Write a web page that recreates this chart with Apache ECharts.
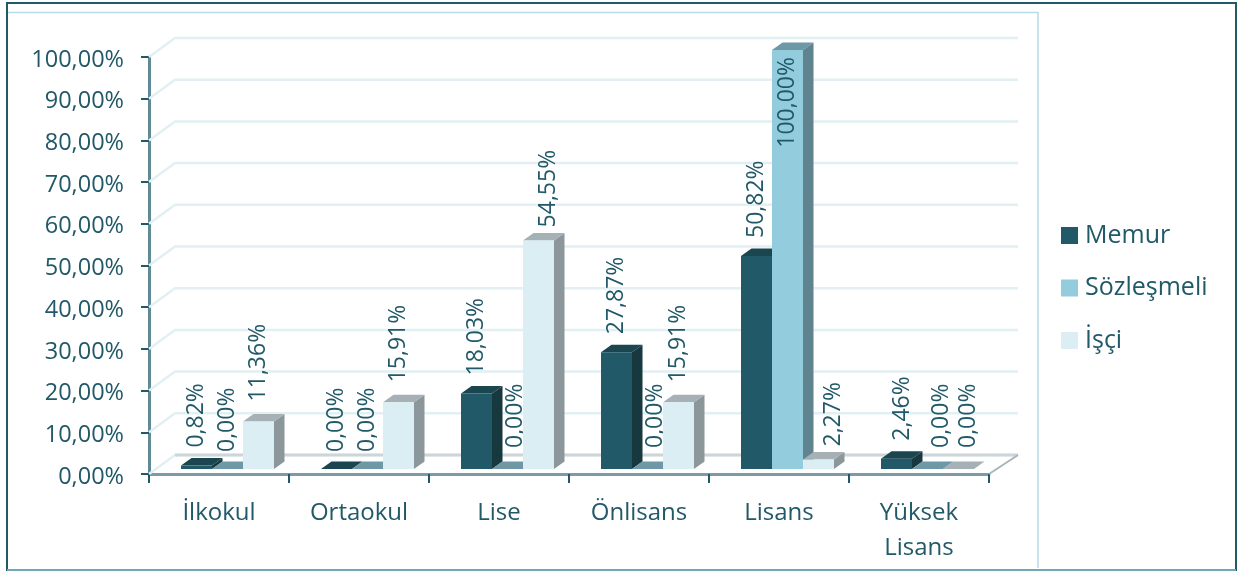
<!DOCTYPE html>
<html><head><meta charset="utf-8">
<style>html,body{margin:0;padding:0;background:#fff}#c{width:1237px;height:571px}</style>
<script src="https://cdn.jsdelivr.net/npm/echarts@6/dist/echarts.min.js"></script>
</head><body><div id="c"></div>
<script>
const categories = ['İlkokul','Ortaokul','Lise','Önlisans','Lisans','Yüksek\nLisans'];
const memur = [0.82,0,18.03,27.87,50.82,2.46];
const sozlesmeli = [0,0,0,0,100,0];
const isci = [11.36,15.91,54.55,15.91,2.27,0];
const yTicks = [0,10,20,30,40,50,60,70,80,90,100];

const TEXT='#215968', FONT='"Open Sans", sans-serif', FS_LABEL=23, FS_Y=23.5, FS_X=24, FS_LEG=25;
const WALL={dx:26,dy:19}, BAR={w:31,dx:10.5,dy:7.5,baseDx:32,baseDy:5};
// hand-placed data-label nudges of the original: [series][category] -> [dx, gap above bar]
const LABEL_PLACE=[
  [[0,18],[0,17],[0,18],[0,18],[0,18],[6,18]],
  [[0,17],[0,17],[8,21],[8,21],[0,0],[14,21]],
  [[0,20],[0,20],[10,13],[0,20],[15,13],[10,21]]
];
const chart=echarts.init(document.getElementById('c'),null,{renderer:'canvas'});
const fmt=v=>v.toFixed(2).replace('.',',')+'%';

function barSeries(name,values,idx,front,side,top){
  return {
    name,type:'custom',coordinateSystem:'cartesian2d',z:3+idx,silent:true,
    itemStyle:{color:front},
    data:values.map((v,i)=>[i,v]),
    encode:{x:0,y:1},
    renderItem(params,api){
      const c=api.value(0),v=api.value(1),cs=params.coordSys;
      const band=api.size([1,0])[0];
      const start=cs.x+band*c;
      const zeroY=api.coord([c,0])[1];
      const base=zeroY-BAR.baseDy;
      const ty=base+(api.coord([c,v])[1]-zeroY)*1.005;
      const x0=start+BAR.baseDx+BAR.w*idx,x1=x0+BAR.w;
      const d=BAR.dx,e=BAR.dy;
      const poly=(pts,fill)=>({type:'polygon',shape:{points:pts},style:{fill}});
      const kids=[
        poly([[x1,base],[x1+d,base-e],[x1+d,ty-e],[x1,ty]],side),
        poly([[x0,ty],[x0+d,ty-e],[x1+d,ty-e],[x1,ty]],top),
        {type:'rect',shape:{x:x0,y:ty,width:BAR.w,height:Math.max(base-ty,0)},style:{fill:front}}
      ];
      const place=LABEL_PLACE[idx][c], lx=(x0+x1)/2+place[0], over=v>=100;
      kids.push({type:'text',x:lx,y:over?cs.y:ty-place[1],rotation:Math.PI/2,z2:50,
        style:{text:fmt(v),fill:TEXT,font:FS_LABEL+'px '+FONT,align:over?'right':'left',verticalAlign:'middle'}});
      return {type:'group',children:kids};
    }
  };
}

const wallSeries={
  name:'wall',type:'custom',coordinateSystem:'cartesian2d',z:1,silent:true,clip:false,
  data:yTicks.map(v=>[0,v]),encode:{x:0,y:1},
  renderItem(params,api){
    const cs=params.coordSys,val=api.value(1),y=api.coord([0,val])[1];
    const x=cs.x,x2=cs.x+cs.width,isFloor=val===0;
    const kids=[{type:'polyline',shape:{points:[[x,y],[x+WALL.dx,y-WALL.dy],[x2+WALL.dx+3,y-WALL.dy]]},
      style:{stroke:'#e2f0f4',lineWidth:2.5,fill:null}},
      {type:'text',x:x-25,y:y+3,style:{text:fmt(val),fill:TEXT,font:FS_Y+'px '+FONT,align:'right',verticalAlign:'middle'}}];
    if(isFloor){
      kids.push({type:'line',shape:{x1:x+WALL.dx,y1:y-WALL.dy,x2:x2+WALL.dx+3,y2:y-WALL.dy},style:{stroke:'#ccd6d8',lineWidth:3}});
      kids.push({type:'line',shape:{x1:x2,y1:y,x2:x2+WALL.dx+3,y2:y-WALL.dy},style:{stroke:'#a9b5b8',lineWidth:2}});
    }
    return {type:'group',children:kids};
  }
};

chart.setOption({
  animation:false,
  backgroundColor:'#fff',
  grid:{left:149,right:248,top:57,bottom:97,containLabel:false},
  legend:{data:['Memur','Sözleşmeli','İşçi'],orient:'vertical',left:1056,top:218,icon:'rect',
    itemWidth:17,itemHeight:17,itemGap:27.5,selectedMode:false,
    textStyle:{color:TEXT,fontFamily:FONT,fontSize:FS_LEG,padding:[0,0,0,2]}},
  xAxis:{type:'category',data:categories,
    axisLine:{lineStyle:{color:'#7c9ba4',width:3}},
    axisTick:{show:true,alignWithLabel:false,length:9,lineStyle:{color:TEXT,width:2}},
    axisLabel:{color:TEXT,fontFamily:FONT,fontSize:FS_X,margin:22,lineHeight:35,interval:0}},
  yAxis:{type:'value',min:0,max:100,interval:10,
    axisLine:{show:true,lineStyle:{color:'#5f8a96',width:3}},
    axisTick:{show:true,length:8,lineStyle:{color:TEXT,width:2}},
    splitLine:{show:false},
    axisLabel:{show:false}},
  series:[wallSeries,
    barSeries('Memur',memur,0,'#215968','#17383f','#1b4650'),
    barSeries('Sözleşmeli',sozlesmeli,1,'#93cddd','#5f8490','#6e98a6'),
    barSeries('İşçi',isci,2,'#daeef3','#8b979a','#a5b1b4')],
  graphic:[
    {type:'rect',z:-1,silent:true,shape:{x:7,y:3,width:1229,height:567},style:{fill:'none',stroke:'#215968',lineWidth:2}},
    {type:'line',silent:true,shape:{x1:7,y1:570,x2:1236,y2:570},style:{stroke:'#6fa8b5',lineWidth:2}},
    {type:'polyline',silent:true,shape:{points:[[8,12.5],[1038,12.5],[1038,568]]},style:{stroke:'#b7dde8',lineWidth:1.5,fill:null}}
  ]
});
</script></body></html>
